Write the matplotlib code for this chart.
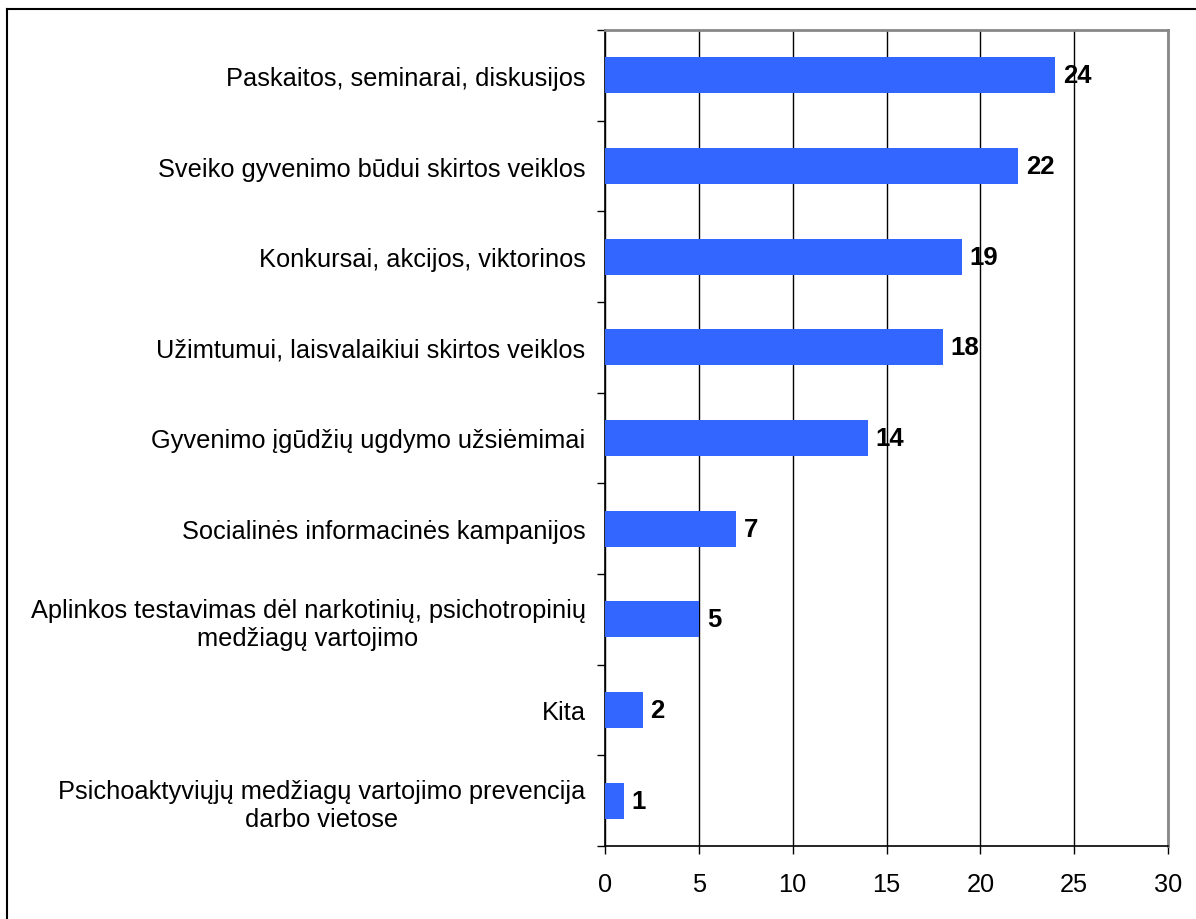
import matplotlib
matplotlib.use("Agg")
import matplotlib.pyplot as plt
from matplotlib.lines import Line2D
import numpy as np

categories = [
    "Paskaitos, seminarai, diskusijos",
    "Sveiko gyvenimo būdui skirtos veiklos",
    "Konkursai, akcijos, viktorinos",
    "Užimtumui, laisvalaikiui skirtos veiklos",
    "Gyvenimo įgūdžių ugdymo užsiėmimai",
    "Socialinės informacinės kampanijos",
    "Aplinkos testavimas dėl narkotinių, psichotropinių\nmedžiagų vartojimo",
    "Kita",
    "Psichoaktyviųjų medžiagų vartojimo prevencija\ndarbo vietose",
]
values = [24, 22, 19, 18, 14, 7, 5, 2, 1]
xticks = [0, 5, 10, 15, 20, 25, 30]

plt.rcParams['font.family'] = ['Liberation Sans', 'DejaVu Sans']

fig = plt.figure(figsize=(11.96, 9.2), dpi=100)
ax = fig.add_axes([605/1196, 1 - 847/920, (1168 - 605)/1196, (847 - 31)/920])

n = len(categories)
y = np.arange(n)
ax.barh(y, values, height=0.4, color='#3366FF', zorder=3)
ax.set_ylim(n - 0.5, -0.5)
ax.set_xlim(0, 30)

for yi, v in zip(y, values):
    ax.text(v + 0.42, yi, str(v), va='center', ha='left', fontsize=18.5,
            fontweight='bold', color='black', zorder=4)

ax.set_yticks(y)
ax.set_yticklabels(categories, fontsize=18.3)
for lab in ax.get_yticklabels():
    lab.set_multialignment('center')
    lab.set_linespacing(1.22)
ax.tick_params(axis='y', which='major', length=0, pad=14)
ax.set_yticks(np.arange(-0.5, n + 0.5, 1), minor=True)
ax.tick_params(axis='y', which='minor', length=6, width=1, direction='out', color='black')

ax.set_xticks(xticks)
ax.set_xticklabels([str(t) for t in xticks], fontsize=18.3)
ax.tick_params(axis='x', which='major', length=6, width=1, direction='out', pad=13, color='black')

ax.grid(axis='x', color='black', linewidth=1, zorder=1)
ax.set_axisbelow(True)

ax.spines['left'].set_color('black')
ax.spines['left'].set_linewidth(1.2)
ax.spines['bottom'].set_color('black')
ax.spines['bottom'].set_linewidth(1.2)
ax.spines['top'].set_color('#888888')
ax.spines['top'].set_linewidth(2)
ax.spines['right'].set_color('#888888')
ax.spines['right'].set_linewidth(2)

# outer border (top and left)
fig.add_artist(Line2D([7/1196, 1.0], [1 - 10/920, 1 - 10/920], color='black', linewidth=1.5, transform=fig.transFigure))
fig.add_artist(Line2D([7/1196, 7/1196], [0.0, 1 - 10/920], color='black', linewidth=1.5, transform=fig.transFigure))

fig.savefig("out.png", dpi=100)
